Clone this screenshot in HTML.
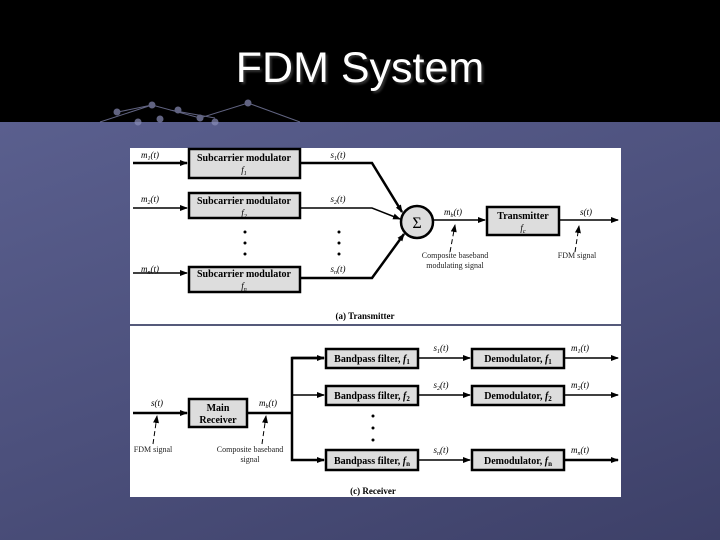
<!DOCTYPE html>
<html><head><style>
body{margin:0;width:720px;height:540px;overflow:hidden;background:#000;font-family:"Liberation Sans",sans-serif}
.bg{position:absolute;left:0;top:122px;width:720px;height:418px;background:linear-gradient(160deg,#5a5f8e 0%,#4c507c 50%,#3d4068 100%)}
.title{position:absolute;left:0;width:720px;top:44px;text-align:center;color:#fff;font-size:43px;text-shadow:2px 2px 2px #333}
svg{position:absolute;left:0;top:0}
</style></head><body>
<div class="bg"></div>
<div class="title">FDM System</div>
<svg width="720" height="540" font-family="Liberation Serif,serif">
<defs><marker id="a" markerWidth="8" markerHeight="6" refX="7" refY="3" orient="auto" markerUnits="userSpaceOnUse"><path d="M0,0L8,3L0,6z" fill="#000"/></marker></defs>
<g stroke="#8a8eb8" stroke-width="1" fill="#8a8eb8" opacity="0.7">
<path d="M100,122 L152,105 L200,118 L248,103 L300,122 M118,112 L152,105 M170,110 L215,118" fill="none"/>
<circle cx="117" cy="112" r="3"/><circle cx="152" cy="105" r="3"/><circle cx="178" cy="110" r="3"/><circle cx="160" cy="119" r="3"/><circle cx="200" cy="118" r="3"/><circle cx="215" cy="122" r="3"/><circle cx="248" cy="103" r="3"/><circle cx="138" cy="122" r="3"/>
</g>
<rect x="130" y="148" width="491" height="349" fill="#fff"/>
<line x1="130" y1="325" x2="621" y2="325" stroke="#555a7a" stroke-width="2"/>
<g stroke="#000" fill="none">
<g stroke-width="2.5"><line x1="133" y1="163" x2="187" y2="163" marker-end="url(#a)"/><line x1="133" y1="208" x2="187" y2="208" stroke-width="1.5" marker-end="url(#a)"/><line x1="133" y1="273" x2="187" y2="273" stroke-width="1.5" marker-end="url(#a)"/>
<polyline points="300,163 372,163 402,212" marker-end="url(#a)"/><polyline points="300,208 372,208 400,219" stroke-width="1.5" marker-end="url(#a)"/><polyline points="300,278 372,278 404,234" marker-end="url(#a)"/>
<line x1="133" y1="413" x2="187" y2="413" marker-end="url(#a)"/><polyline points="247,413 292,413"/><polyline points="324,358 292,358 292,460 324,460" marker-end="url(#a)"/>
<line x1="292" y1="358" x2="324" y2="358" marker-end="url(#a)"/>
<line x1="564" y1="460" x2="618" y2="460" marker-end="url(#a)"/>
</g>
<g stroke-width="1.5">
<line x1="433" y1="220" x2="485" y2="220" marker-end="url(#a)"/><line x1="559" y1="220" x2="618" y2="220" marker-end="url(#a)"/>
<line x1="292" y1="395" x2="324" y2="395" marker-end="url(#a)"/>
<line x1="418" y1="358" x2="470" y2="358" marker-end="url(#a)"/><line x1="418" y1="395" x2="470" y2="395" marker-end="url(#a)"/><line x1="418" y1="460" x2="470" y2="460" marker-end="url(#a)"/>
<line x1="564" y1="358" x2="618" y2="358" marker-end="url(#a)"/><line x1="564" y1="395" x2="618" y2="395" marker-end="url(#a)"/>
</g>
<g stroke-width="1" stroke-dasharray="5,3"><line x1="450" y1="252" x2="455" y2="225" marker-end="url(#a)"/><line x1="575" y1="252" x2="579" y2="226" marker-end="url(#a)"/>
<line x1="153" y1="444" x2="157" y2="416" marker-end="url(#a)"/><line x1="262" y1="444" x2="266" y2="416" marker-end="url(#a)"/></g>
<g fill="#ddd" stroke-width="2.5">
<rect x="189" y="149" width="111" height="29"/><rect x="189" y="193" width="111" height="25"/><rect x="189" y="267" width="111" height="25"/>
<rect x="487" y="207" width="72" height="28"/><circle cx="417" cy="222" r="16"/>
<rect x="189" y="399" width="58" height="28"/>
<rect x="326" y="349" width="92" height="19"/><rect x="326" y="386" width="92" height="19"/><rect x="326" y="450" width="92" height="20"/>
<rect x="472" y="349" width="92" height="19"/><rect x="472" y="386" width="92" height="19"/><rect x="472" y="450" width="92" height="20"/>
</g></g>
<g font-size="10" font-weight="bold" text-anchor="middle">
<text x="244" y="161">Subcarrier modulator</text><text x="244" y="204">Subcarrier modulator</text><text x="244" y="277">Subcarrier modulator</text>
<text x="523" y="219">Transmitter</text><text x="218" y="411">Main</text><text x="218" y="423">Receiver</text>
<text x="372" y="362">Bandpass filter, <tspan font-style="italic">f</tspan><tspan font-size="7" baseline-shift="-2">1</tspan></text>
<text x="372" y="399">Bandpass filter, <tspan font-style="italic">f</tspan><tspan font-size="7" baseline-shift="-2">2</tspan></text>
<text x="372" y="464">Bandpass filter, <tspan font-style="italic">f</tspan><tspan font-size="7" baseline-shift="-2">n</tspan></text>
<text x="518" y="362">Demodulator, <tspan font-style="italic">f</tspan><tspan font-size="7" baseline-shift="-2">1</tspan></text>
<text x="518" y="399">Demodulator, <tspan font-style="italic">f</tspan><tspan font-size="7" baseline-shift="-2">2</tspan></text>
<text x="518" y="464">Demodulator, <tspan font-style="italic">f</tspan><tspan font-size="7" baseline-shift="-2">n</tspan></text>
<text x="365" y="319" font-size="9">(a) Transmitter</text><text x="373" y="494" font-size="9">(c) Receiver</text>
</g>
<g font-size="9" font-style="italic" text-anchor="middle">
<text x="244" y="173">f<tspan font-size="6" baseline-shift="-2">1</tspan></text><text x="244" y="216">f<tspan font-size="6" baseline-shift="-2">2</tspan></text><text x="244" y="289">f<tspan font-size="6" baseline-shift="-2">n</tspan></text><text x="523" y="231">f<tspan font-size="6" baseline-shift="-2">c</tspan></text>
<text x="150" y="158">m<tspan font-size="6" baseline-shift="-2">1</tspan>(t)</text><text x="150" y="202">m<tspan font-size="6" baseline-shift="-2">2</tspan>(t)</text><text x="150" y="272">m<tspan font-size="6" baseline-shift="-2">n</tspan>(t)</text>
<text x="338" y="158">s<tspan font-size="6" baseline-shift="-2">1</tspan>(t)</text><text x="338" y="202">s<tspan font-size="6" baseline-shift="-2">2</tspan>(t)</text><text x="338" y="272">s<tspan font-size="6" baseline-shift="-2">n</tspan>(t)</text>
<text x="453" y="215">m<tspan font-size="6" baseline-shift="-2">b</tspan>(t)</text><text x="586" y="215">s(t)</text>
<text x="157" y="406">s(t)</text><text x="268" y="406">m<tspan font-size="6" baseline-shift="-2">b</tspan>(t)</text>
<text x="441" y="351">s<tspan font-size="6" baseline-shift="-2">1</tspan>(t)</text><text x="441" y="388">s<tspan font-size="6" baseline-shift="-2">2</tspan>(t)</text><text x="441" y="453">s<tspan font-size="6" baseline-shift="-2">n</tspan>(t)</text>
<text x="580" y="351">m<tspan font-size="6" baseline-shift="-2">1</tspan>(t)</text><text x="580" y="388">m<tspan font-size="6" baseline-shift="-2">2</tspan>(t)</text><text x="580" y="453">m<tspan font-size="6" baseline-shift="-2">n</tspan>(t)</text>
</g>
<text x="417" y="228" font-size="16" text-anchor="middle">Σ</text>
<g font-size="8" text-anchor="middle" fill="#222">
<text x="455" y="258">Composite baseband</text><text x="455" y="268">modulating signal</text><text x="577" y="258">FDM signal</text>
<text x="153" y="452">FDM signal</text><text x="250" y="452">Composite baseband</text><text x="250" y="462">signal</text>
</g>
<g fill="#000"><circle cx="245" cy="232" r="1.5"/><circle cx="245" cy="243" r="1.5"/><circle cx="245" cy="254" r="1.5"/>
<circle cx="339" cy="232" r="1.5"/><circle cx="339" cy="243" r="1.5"/><circle cx="339" cy="254" r="1.5"/>
<circle cx="373" cy="416" r="1.5"/><circle cx="373" cy="428" r="1.5"/><circle cx="373" cy="440" r="1.5"/></g>
</svg>
</body></html>
